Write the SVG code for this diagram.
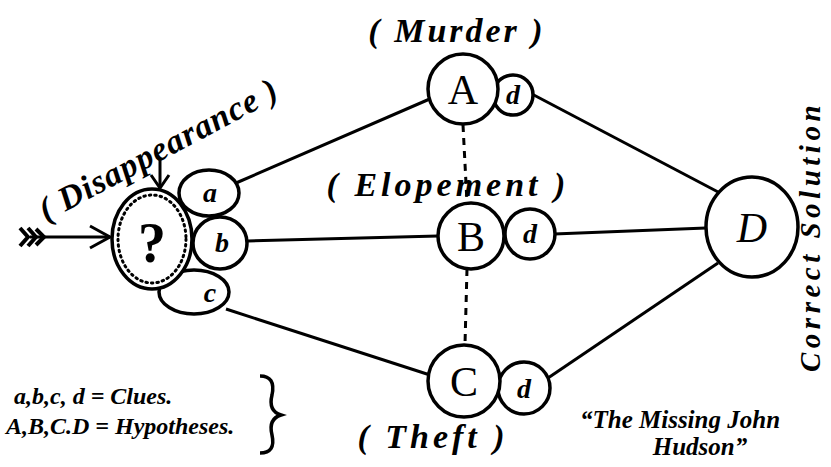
<svg xmlns="http://www.w3.org/2000/svg" width="831" height="467" viewBox="0 0 831 467">
<style>
.n{fill:#fff;stroke:#000;stroke-width:3.5}
.e{fill:none;stroke:#000;stroke-width:3}
.d{fill:none;stroke:#000;stroke-width:3;stroke-dasharray:7 6}
.t{font-family:"Liberation Serif",serif;font-style:italic;font-weight:bold;fill:#000}
.big{font-family:"Liberation Serif",serif;fill:#000;font-size:42px;text-anchor:middle}
.sm{font-family:"Liberation Serif",serif;font-style:italic;font-weight:bold;fill:#000;font-size:28px;text-anchor:middle}
</style>
<rect width="831" height="467" fill="#fff"/>
<g id="connectors">
<line class="e" x1="236" y1="183" x2="432" y2="98"/>
<line class="e" x1="248" y1="241" x2="438" y2="236"/>
<line class="e" x1="226" y1="309" x2="430" y2="375"/>
<line class="e" x1="530" y1="93" x2="720" y2="193"/>
<line class="e" x1="554" y1="234" x2="706" y2="228"/>
<line class="e" x1="548" y1="378" x2="718" y2="263"/>
<line class="d" x1="463" y1="125" x2="467" y2="203"/>
<line class="d" x1="467" y1="269" x2="465" y2="344"/>
<g id="arrow-in">
<line class="e" x1="30" y1="237" x2="110" y2="237"/>
<path d="M90 226 L110 237 L90 248" fill="none" stroke="#000" stroke-width="3"/>
<path d="M20 228 L28 237 L20 246 M28 228 L36 237 L28 246 M36 229 L44 237 L36 245" fill="none" stroke="#000" stroke-width="4"/>
</g>
<g id="arrow-down">
<line class="e" x1="160" y1="160" x2="160" y2="188"/>
<path d="M151 175 L160 188 L169 175" fill="none" stroke="#000" stroke-width="3"/>
</g>
</g>
<g id="clue-a"><ellipse class="n" cx="209" cy="193" rx="30" ry="23"/><text class="sm" x="210" y="202">a</text></g>
<g id="clue-b"><ellipse class="n" cx="220" cy="243" rx="27" ry="26"/><text class="sm" x="222" y="252">b</text></g>
<g id="clue-c"><ellipse class="n" cx="194" cy="292" rx="35" ry="22"/><text class="sm" x="210" y="302">c</text></g>
<g id="question"><ellipse class="n" cx="152" cy="239" rx="40" ry="50"/><ellipse cx="152" cy="239" rx="34" ry="44" fill="none" stroke="#000" stroke-width="3" stroke-dasharray="1.5 4" stroke-linecap="round"/><text x="152" y="262" font-family="Liberation Serif,serif" font-weight="bold" font-size="56" text-anchor="middle">?</text></g>
<g id="A"><circle class="n" cx="513" cy="95" r="20"/><circle class="n" cx="463" cy="89" r="35"/><text class="big" x="463" y="104">A</text><text class="sm" x="513" y="104">d</text></g>
<g id="B"><circle class="n" cx="530" cy="234" r="25"/><circle class="n" cx="471" cy="236" r="33"/><text class="big" x="471" y="251">B</text><text class="sm" x="530" y="243">d</text></g>
<g id="C"><circle class="n" cx="524" cy="388" r="26"/><circle class="n" cx="464" cy="381" r="36"/><text class="big" x="464" y="396">C</text><text class="sm" x="524" y="398">d</text></g>
<g id="D"><ellipse class="n" cx="752" cy="227" rx="46" ry="50"/><text class="big" x="752" y="242" font-style="italic">D</text></g>
<g id="labels">
<text class="t" x="457" y="42" font-size="34" text-anchor="middle" letter-spacing="3">( Murder )</text>
<text class="t" x="448" y="196" font-size="34" text-anchor="middle" letter-spacing="4">( Elopement )</text>
<text class="t" x="433" y="448" font-size="34" text-anchor="middle" letter-spacing="4">( Theft )</text>
<text class="t" font-size="34" transform="translate(46 222) rotate(-28)" letter-spacing="1">( Disappearance )</text>
<text class="t" font-size="29" transform="translate(820 372) rotate(-90)" letter-spacing="4.5">Correct Solution</text>
<text class="t" x="14" y="404" font-size="24">a,b,c, d = Clues.</text>
<text class="t" x="6" y="434" font-size="24">A,B,C.D = Hypotheses.</text>
<path d="M260 376 Q276 376 272 395 Q268 411 281 415 Q268 419 272 435 Q276 453 260 453" fill="none" stroke="#000" stroke-width="3.5"/>
<text class="t" x="680" y="428" font-size="25" text-anchor="middle">“The Missing John</text>
<text class="t" x="700" y="455" font-size="25" text-anchor="middle">Hudson”</text>
</g>
</svg>
